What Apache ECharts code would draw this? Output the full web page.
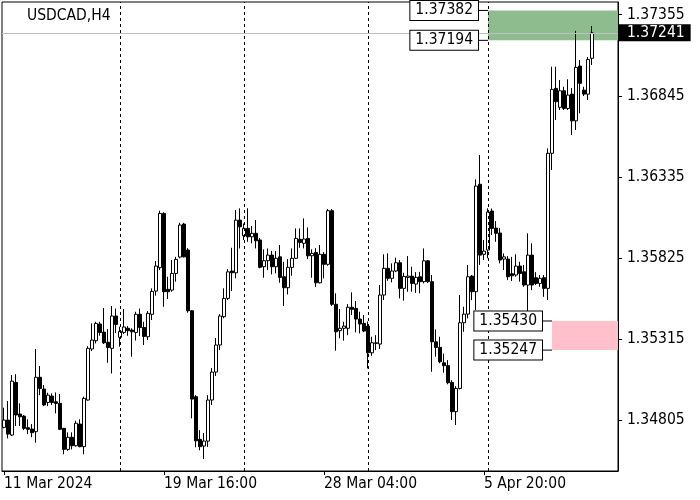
<!DOCTYPE html>
<html>
<head>
<meta charset="utf-8">
<script src="https://cdn.jsdelivr.net/npm/echarts@6/dist/echarts.min.js"></script>
<style>html,body{margin:0;padding:0;background:#fff}#c{width:700px;height:500px}</style>
</head>
<body>
<div id="c"></div>
<script>
const title = 'USDCAD,H4';
const opens = [
1.34761,1.34807,1.34713,1.35044,1.34845,1.34832,1.34759,1.34751,1.34734,1.35076,
1.35002,1.34918,1.34958,1.34922,1.34912,1.34755,1.34623,1.34699,1.34646,1.34782,
1.34640,1.34933,1.35254,1.35306,1.35411,1.35360,1.35296,1.35258,1.35461,1.35327,
1.35358,1.35384,1.35373,1.35358,1.35472,1.35389,1.35331,1.35472,1.35618,1.35765,
1.36106,1.35629,1.35624,1.35729,1.35832,1.36039,1.35876,1.35494,1.34954,1.34686,
1.34644,1.34675,1.34933,1.35109,1.35279,1.35457,1.35572,1.35744,1.35733,1.36064,
1.35966,1.36012,1.35959,1.35981,1.35939,1.35771,1.35809,1.35844,1.35771,1.35833,
1.35708,1.35639,1.35767,1.35824,1.35943,1.35918,1.35949,1.35840,1.35861,1.35670,
1.35849,1.35786,1.36123,1.35535,1.35369,1.35384,1.35384,1.35516,1.35509,1.35442,
1.35415,1.35398,1.35230,1.35289,1.35285,1.35593,1.35761,1.35698,1.35744,1.35796,
1.35635,1.35704,1.35712,1.35662,1.35708,1.35677,1.35808,1.35677,1.35299,1.35264,
1.35167,1.35149,1.35044,1.34860,1.35006,1.35419,1.35473,1.35712,1.35614,1.36289,
1.35849,1.35876,1.36121,1.36014,1.35983,1.35819,1.35819,1.35727,1.35719,1.35775,
1.35739,1.35656,1.35844,1.35702,1.35666,1.35702,1.35635,1.36484,1.36892,1.36773,
1.36877,1.36766,1.36856,1.36688,1.37032,1.36881,1.36856,1.37081];
const closes = [
1.34807,1.34719,1.35052,1.34839,1.34828,1.34755,1.34749,1.34728,1.35076,1.35006,
1.34902,1.34964,1.34918,1.34912,1.34749,1.34623,1.34699,1.34646,1.34787,1.34640,
1.34944,1.35258,1.35310,1.35415,1.35358,1.35293,1.35263,1.35461,1.35408,1.35364,
1.35392,1.35369,1.35362,1.35472,1.35389,1.35333,1.35478,1.35616,1.35775,1.36106,
1.35614,1.35614,1.35729,1.35817,1.36033,1.35833,1.35494,1.34939,1.34677,1.34640,
1.34675,1.34933,1.35109,1.35279,1.35461,1.35572,1.35739,1.35733,1.36064,1.36022,
1.36012,1.35959,1.35981,1.35934,1.35767,1.35809,1.35844,1.35771,1.35824,1.35704,
1.35639,1.35767,1.35824,1.35949,1.35924,1.35945,1.35840,1.35855,1.35670,1.35849,
1.35786,1.36123,1.35535,1.35362,1.35384,1.35398,1.35516,1.35503,1.35442,1.35411,
1.35367,1.35230,1.35293,1.35293,1.35593,1.35761,1.35698,1.35744,1.35796,1.35635,
1.35710,1.35712,1.35666,1.35704,1.35677,1.35808,1.35677,1.35299,1.35264,1.35174,
1.35149,1.35042,1.34860,1.35006,1.35419,1.35473,1.35708,1.35614,1.36278,1.35844,
1.35869,1.36115,1.36012,1.35981,1.35813,1.35833,1.35708,1.35714,1.35775,1.35729,
1.35656,1.35844,1.35656,1.35666,1.35698,1.35635,1.36484,1.36886,1.36808,1.36877,
1.36766,1.36850,1.36688,1.37024,1.36924,1.36856,1.37074,1.37241];
const lows = [
1.34755,1.34692,1.34707,1.34770,1.34770,1.34744,1.34719,1.34699,1.34665,1.34964,
1.34895,1.34895,1.34902,1.34849,1.34744,1.34592,1.34614,1.34623,1.34640,1.34636,
1.34592,1.34929,1.35241,1.35289,1.35337,1.35285,1.35167,1.35100,1.35354,1.35268,
1.35348,1.35337,1.35205,1.35307,1.35335,1.35279,1.35310,1.35436,1.35589,1.35750,
1.35519,1.35568,1.35614,1.35677,1.35824,1.35829,1.35482,1.34818,1.34636,1.34617,
1.34562,1.34638,1.34902,1.35084,1.35247,1.35447,1.35562,1.35618,1.35698,1.35886,
1.35939,1.35928,1.35918,1.35886,1.35761,1.35702,1.35750,1.35723,1.35729,1.35670,
1.35524,1.35597,1.35714,1.35819,1.35890,1.35886,1.35819,1.35702,1.35645,1.35666,
1.35698,1.35777,1.35524,1.35243,1.35321,1.35306,1.35341,1.35467,1.35358,1.35352,
1.35360,1.35132,1.35211,1.35247,1.35254,1.35562,1.35683,1.35673,1.35737,1.35572,
1.35558,1.35614,1.35614,1.35607,1.35604,1.35666,1.35668,1.35111,1.35205,1.35164,
1.35104,1.35032,1.34807,1.34776,1.35000,1.35362,1.35446,1.35561,1.35499,1.35782,
1.35813,1.35824,1.35970,1.35928,1.35792,1.35750,1.35687,1.35681,1.35708,1.35677,
1.35645,1.35467,1.35624,1.35656,1.35645,1.35582,1.35562,1.36379,1.36693,1.36756,
1.36756,1.36756,1.36599,1.36630,1.36735,1.36844,1.36819,1.37039];
const highs = [
1.34885,1.34927,1.35090,1.35095,1.34912,1.34839,1.34812,1.34782,1.35254,1.35147,
1.35027,1.34979,1.34975,1.34981,1.34971,1.34757,1.34730,1.34730,1.34803,1.34812,
1.34954,1.35272,1.35415,1.35425,1.35425,1.35511,1.35379,1.35524,1.35508,1.35394,
1.35505,1.35398,1.35384,1.35488,1.35508,1.35425,1.35492,1.35635,1.35807,1.36123,
1.36113,1.35708,1.35813,1.35833,1.36047,1.36047,1.35888,1.35499,1.34964,1.34744,
1.34726,1.34964,1.35134,1.35323,1.35473,1.35635,1.35756,1.35890,1.36127,1.36138,
1.36043,1.36138,1.36027,1.36064,1.35951,1.35880,1.35886,1.35871,1.35869,1.35907,
1.35802,1.35819,1.35886,1.36012,1.36012,1.36075,1.36018,1.35880,1.35888,1.35907,
1.35863,1.36134,1.36134,1.35604,1.35505,1.35425,1.35536,1.35610,1.35555,1.35488,
1.35467,1.35427,1.35331,1.35341,1.35656,1.35849,1.35855,1.35792,1.35828,1.35813,
1.35733,1.35838,1.35771,1.35737,1.35739,1.35886,1.35813,1.35719,1.35377,1.35331,
1.35225,1.35184,1.35058,1.35021,1.35593,1.35519,1.35782,1.35719,1.36320,1.36473,
1.35939,1.36138,1.36137,1.36058,1.36014,1.35855,1.35838,1.35833,1.35849,1.35802,
1.35782,1.35981,1.35918,1.35737,1.35719,1.35719,1.36515,1.37028,1.37028,1.36944,
1.36902,1.36949,1.36894,1.37254,1.37070,1.36902,1.37089,1.37284];

// price axis
const yMin = 1.34487, yMax = 1.37435;
const yTicks = [1.34805, 1.35315, 1.35825, 1.36335, 1.36845, 1.37355];
// time axis
const barCount = 154;
const tickIdx = [0, 40, 80, 120];
const tickText = ['11 Mar 2024', '19 Mar 16:00', '28 Mar 04:00', '5 Apr 20:00'];
const separatorIdx = [29, 60, 91, 121];
// levels
const lastPrice = 1.37241;
const resistance = [1.37382, 1.37194];
const support = [1.35430, 1.35247];
const resistanceIdx = 121, supportIdx = 137;

const MON = ['Jan','Feb','Mar','Apr','May','Jun','Jul','Aug','Sep','Oct','Nov','Dec'];
const cats = [];
let t = Date.UTC(2024, 2, 11, 0, 0);
while (cats.length < barCount) {
  const d = new Date(t);
  const wd = d.getUTCDay();
  if (wd !== 0 && wd !== 6) {
    cats.push(d.getUTCDate() + ' ' + MON[d.getUTCMonth()] + ' ' + String(d.getUTCHours()).padStart(2,'0') + ':00');
  }
  t += 4 * 3600 * 1000;
}
const ohlc = opens.map((o, i) => [o, closes[i], lows[i], highs[i]]);

const FONT = "'DejaVu Sans Condensed', 'Liberation Sans', sans-serif";
const FS = 15.5;
const boxLabel = {
  show: true, position: 'left', distance: 0,
  formatter: p => p.value.toFixed(5),
  backgroundColor: '#fff', borderColor: '#000', borderWidth: 1,
  padding: [2, 5, 1, 5], fontSize: FS, lineHeight: 16, color: '#000', fontFamily: FONT
};

const chart = echarts.init(document.getElementById('c'), null, {renderer: 'canvas'});
chart.setOption({
  animation: false,
  backgroundColor: '#fff',
  textStyle: {fontFamily: FONT},
  title: {text: title, left: 27, top: 8, padding: 0, textStyle: {fontSize: FS, fontWeight: 'normal', color: '#000', fontFamily: FONT}},
  grid: {left: 2, top: 2, width: 616, height: 469, show: true, borderColor: '#000', borderWidth: 1, backgroundColor: 'transparent'},
  xAxis: {
    type: 'category', data: cats, boundaryGap: true,
    axisLine: {show: true, lineStyle: {color: '#000'}},
    axisTick: {show: true, alignWithLabel: true, interval: (i) => tickIdx.includes(i), length: 4, lineStyle: {color: '#000'}},
    axisLabel: {interval: (i) => tickIdx.includes(i), formatter: (v, i) => tickText[tickIdx.indexOf(i)] || '',
      align: 'left', margin: 5, color: '#000', fontSize: FS, fontFamily: FONT},
    splitLine: {show: false}
  },
  yAxis: {
    type: 'value', position: 'right', min: yMin, max: yMax,
    axisLine: {show: true, lineStyle: {color: '#000'}},
    axisTick: {show: true, length: 4, customValues: yTicks, lineStyle: {color: '#000'}},
    axisLabel: {customValues: yTicks, formatter: v => v.toFixed(5), margin: 9, color: '#000', fontSize: FS, fontFamily: FONT},
    splitLine: {show: false}
  },
  series: [{
    type: 'candlestick',
    data: ohlc,
    barWidth: 3,
    itemStyle: {color: '#fff', color0: '#000', borderColor: '#000', borderColor0: '#000', borderWidth: 1},
    markArea: {
      silent: true,
      itemStyle: {opacity: 1},
      data: [
        [{xAxis: resistanceIdx, yAxis: resistance[0], itemStyle: {color: '#8fbc8f', opacity: 1}}, {xAxis: Infinity, yAxis: resistance[1]}],
        [{xAxis: supportIdx, yAxis: support[0], itemStyle: {color: '#ffc0cb', opacity: 1}}, {xAxis: Infinity, yAxis: support[1]}]
      ]
    },
    markLine: {
      silent: true, symbol: ['none', 'none'], precision: 5,
      data: [
        {yAxis: lastPrice, lineStyle: {color: '#c0c0c0', type: 'solid', width: 1},
         label: {show: true, position: 'end', distance: 0, formatter: lastPrice.toFixed(5), backgroundColor: '#000', color: '#fff',
                 padding: [1, 6, 1, 9], fontSize: FS, lineHeight: 15, fontFamily: FONT}},
        ...separatorIdx.map(i => ({xAxis: i, lineStyle: {color: '#000', type: [3, 3], width: 1}, label: {show: false}}))
      ]
    },
    markPoint: {
      silent: true,
      symbol: 'rect', symbolSize: [10, 1], symbolOffset: [-5, 0],
      itemStyle: {color: '#000'},
      label: boxLabel,
      data: [
        ...resistance.map(p => ({coord: [resistanceIdx, p], value: p})),
        ...support.map(p => ({coord: [supportIdx, p], value: p}))
      ]
    }
  }]
});
</script>
</body>
</html>
